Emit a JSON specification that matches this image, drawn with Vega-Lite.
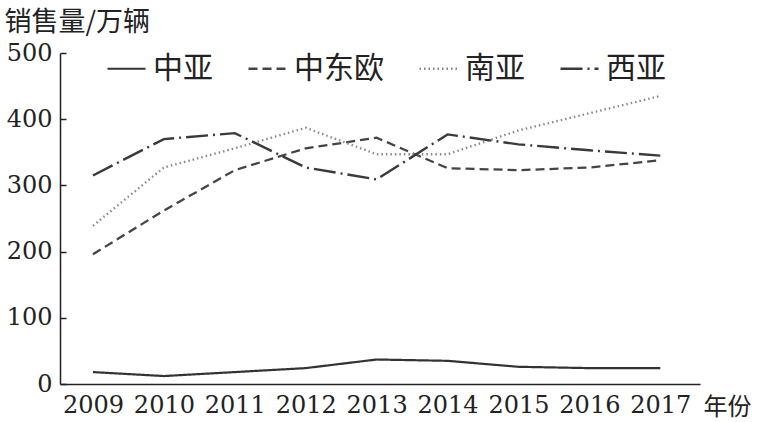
{
  "$schema": "https://vega.github.io/schema/vega-lite/v6.json",
  "autosize": {"type": "none"},
  "width": 640,
  "height": 331,
  "padding": {"left": 60, "top": 53, "right": 63, "bottom": 38},
  "background": "white",
  "config": {"view": {"stroke": null}},
  "data": {"values": [
    {"year": 2009, "region": "中亚", "sales": 18},
    {"year": 2010, "region": "中亚", "sales": 12},
    {"year": 2011, "region": "中亚", "sales": 18},
    {"year": 2012, "region": "中亚", "sales": 24},
    {"year": 2013, "region": "中亚", "sales": 37},
    {"year": 2014, "region": "中亚", "sales": 35},
    {"year": 2015, "region": "中亚", "sales": 26},
    {"year": 2016, "region": "中亚", "sales": 24},
    {"year": 2017, "region": "中亚", "sales": 24},
    {"year": 2009, "region": "中东欧", "sales": 196},
    {"year": 2010, "region": "中东欧", "sales": 262},
    {"year": 2011, "region": "中东欧", "sales": 323},
    {"year": 2012, "region": "中东欧", "sales": 356},
    {"year": 2013, "region": "中东欧", "sales": 372},
    {"year": 2014, "region": "中东欧", "sales": 326},
    {"year": 2015, "region": "中东欧", "sales": 323},
    {"year": 2016, "region": "中东欧", "sales": 327},
    {"year": 2017, "region": "中东欧", "sales": 338},
    {"year": 2009, "region": "南亚", "sales": 239},
    {"year": 2010, "region": "南亚", "sales": 327},
    {"year": 2011, "region": "南亚", "sales": 356},
    {"year": 2012, "region": "南亚", "sales": 387},
    {"year": 2013, "region": "南亚", "sales": 347},
    {"year": 2014, "region": "南亚", "sales": 347},
    {"year": 2015, "region": "南亚", "sales": 383},
    {"year": 2016, "region": "南亚", "sales": 409},
    {"year": 2017, "region": "南亚", "sales": 435},
    {"year": 2009, "region": "西亚", "sales": 315},
    {"year": 2010, "region": "西亚", "sales": 370},
    {"year": 2011, "region": "西亚", "sales": 379},
    {"year": 2012, "region": "西亚", "sales": 327},
    {"year": 2013, "region": "西亚", "sales": 309},
    {"year": 2014, "region": "西亚", "sales": 377},
    {"year": 2015, "region": "西亚", "sales": 362},
    {"year": 2016, "region": "西亚", "sales": 353},
    {"year": 2017, "region": "西亚", "sales": 345}
  ]},
  "mark": {"type": "line", "interpolate": "linear"},
  "encoding": {
    "x": {
      "field": "year", "type": "quantitative",
      "scale": {"domain": [2008.535, 2017.56], "nice": false, "zero": false},
      "axis": {
        "values": [2009, 2010, 2011, 2012, 2013, 2014, 2015, 2016, 2017],
        "format": "d", "grid": false, "ticks": false,
        "domainColor": "#222", "domainWidth": 1.5,
        "labelFont": "DejaVu Serif", "labelFontSize": 24, "labelColor": "#222",
        "labelPadding": 9, "labelFlush": false, "labelOverlap": false,
        "title": "年份", "titleFont": "Noto Sans CJK SC", "titleFontSize": 24,
        "titleFontWeight": "normal", "titleColor": "#222",
        "titleAnchor": "end", "titleAlign": "left", "titleBaseline": "middle",
        "titleX": 643, "titleY": 23
      }
    },
    "y": {
      "field": "sales", "type": "quantitative",
      "scale": {"domain": [0, 500], "nice": false},
      "axis": {
        "values": [0, 100, 200, 300, 400, 500], "grid": false,
        "tickSize": -6, "tickColor": "#222", "tickWidth": 1.5,
        "domainColor": "#222", "domainWidth": 1.5,
        "labelFont": "DejaVu Serif", "labelFontSize": 24, "labelColor": "#222",
        "labelPadding": 14, "labelFlush": false,
        "title": "销售量/万辆", "titleFont": "Noto Sans CJK SC", "titleFontSize": 27,
        "titleFontWeight": "normal", "titleColor": "#222", "titleAngle": 0,
        "titleAlign": "left", "titleBaseline": "middle",
        "titleX": -56, "titleY": -31
      }
    },
    "color": {
      "field": "region", "type": "nominal",
      "sort": ["中亚", "中东欧", "南亚", "西亚"],
      "scale": {"domain": ["中亚", "中东欧", "南亚", "西亚"], "range": ["#333333", "#444444", "#888888", "#3a3a3a"]},
      "legend": {
        "orient": "none", "legendX": 46, "legendY": -5, "direction": "horizontal",
        "title": null, "symbolType": "stroke", "symbolSize": 1444,
        "labelFont": "Noto Sans CJK SC", "labelFontSize": 30, "labelColor": "#222",
        "labelOffset": 6, "columnPadding": 30, "labelLimit": 200
      }
    },
    "strokeDash": {
      "field": "region", "type": "nominal",
      "sort": ["中亚", "中东欧", "南亚", "西亚"],
      "scale": {"domain": ["中亚", "中东欧", "南亚", "西亚"], "range": [[1, 0], [9, 5], [1.5, 3], [22, 5, 2, 5]]},
      "legend": null
    },
    "strokeWidth": {
      "field": "region", "type": "nominal",
      "sort": ["中亚", "中东欧", "南亚", "西亚"],
      "scale": {"domain": ["中亚", "中东欧", "南亚", "西亚"], "range": [2.2, 2.4, 1.5, 2.4]},
      "legend": null
    }
  }
}
